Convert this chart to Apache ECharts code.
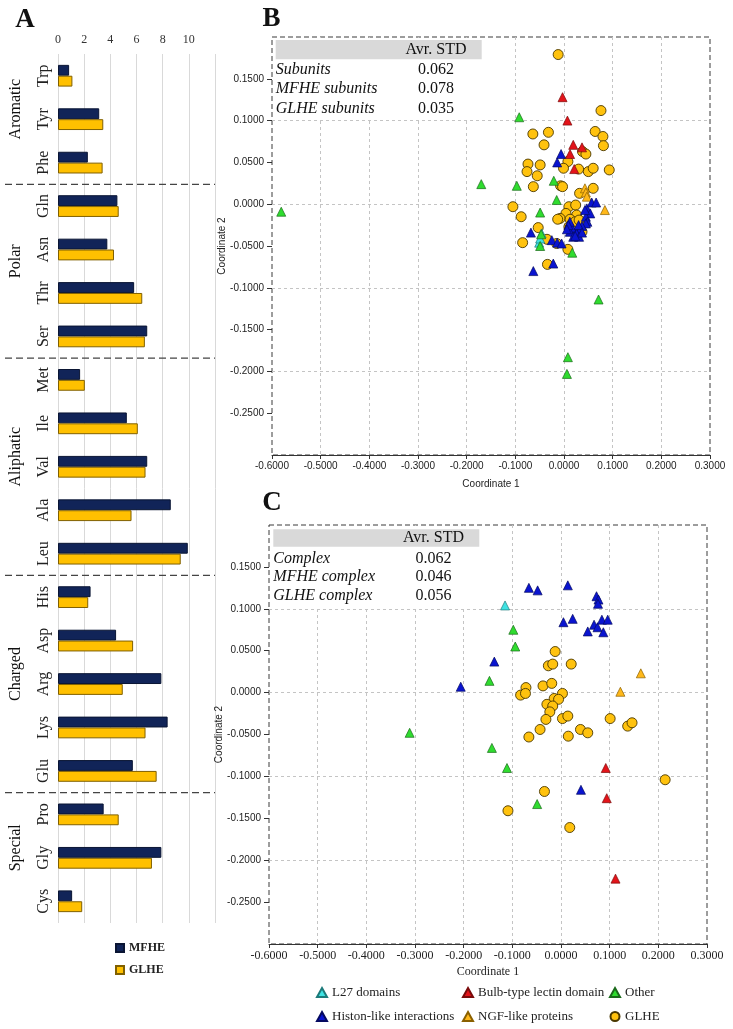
<!DOCTYPE html>
<html><head><meta charset="utf-8">
<script src="https://cdn.jsdelivr.net/npm/echarts@6/dist/echarts.min.js"></script>
<style>html,body{margin:0;padding:0;background:#fff}#c{width:733px;height:1029px}</style>
</head><body><div id="c"></div>
<script>
// ---------- Panel A data ----------
const categories = ['Trp','Tyr','Phe','Gln','Asn','Thr','Ser','Met','Ile','Val','Ala','Leu','His','Asp','Arg','Lys','Glu','Pro','Gly','Cys'];
const mfhe = [0.85,3.15,2.28,4.54,3.77,5.82,6.82,1.69,5.26,6.82,8.62,9.92,2.49,4.44,7.90,8.38,5.72,3.49,7.90,1.08];
const glhe = [1.10,3.46,3.41,4.64,4.28,6.44,6.64,2.05,6.10,6.69,5.62,9.38,2.31,5.74,4.95,6.69,7.54,4.64,7.18,1.85];
const groupNames = ['Aromatic','Polar','Aliphatic','Charged','Special'];
const groupFirst = ['Trp','Gln','Met','His','Pro'];
const groupLast  = ['Phe','Ser','Leu','Glu','Cys'];
const aTicks = [0,2,4,6,8,10];

// ---------- Panel B data (Coordinate 1, Coordinate 2) ----------
const bL27 = [[-0.046,-0.035],[-0.051,-0.046],[-0.049,-0.041]];
const bBulb = [[-0.003,0.128],[0.007,0.100],[0.019,0.071],[0.037,0.068],[0.0125,0.060],[0.021,0.042]];
const bOther = [[-0.581,-0.009],[-0.170,0.024],[-0.092,0.104],[-0.097,0.022],[-0.021,0.028],[-0.015,0.005],[-0.049,-0.010],[-0.047,-0.036],[-0.049,-0.050],[0.017,-0.058],[0.071,-0.114],[0.008,-0.183],[0.006,-0.203]];
const bHiston = [[-0.006,0.060],[-0.014,0.050],[-0.068,-0.034],[-0.063,-0.080],[-0.022,-0.071],[-0.025,-0.043],[-0.014,-0.046],[-0.005,-0.047],[0.047,-0.005],[0.057,0.002],[0.066,0.002],[0.054,-0.011],[0.045,-0.015],[0.048,-0.021],[0.045,-0.023],[0.037,-0.026],[0.033,-0.030],[0.023,-0.033],[0.016,-0.028],[0.026,-0.035],[0.031,-0.039],[0.012,-0.033],[0.019,-0.039],[0.012,-0.021],[0.009,-0.025],[0.030,-0.025],[0.006,-0.030],[0.037,-0.034],[0.023,-0.038],[0.043,-0.007]];
const bNGF = [[0.043,0.019],[0.045,0.014],[0.047,0.009],[0.084,-0.007]];
const bGLHE = [[-0.012,0.179],[0.076,0.112],[-0.064,0.084],[-0.032,0.086],[-0.041,0.071],[0.064,0.087],[0.080,0.081],[0.081,0.070],[0.038,0.063],[0.045,0.060],[0.008,0.051],[-0.001,0.043],[-0.074,0.048],[-0.049,0.047],[-0.076,0.039],[-0.055,0.034],[0.030,0.042],[0.050,0.039],[0.060,0.043],[0.093,0.041],[-0.063,0.021],[-0.007,0.022],[-0.003,0.021],[0.060,0.019],[0.032,0.013],[-0.105,-0.003],[-0.088,-0.015],[0.010,-0.003],[0.024,-0.001],[0.004,-0.011],[-0.008,-0.017],[-0.013,-0.018],[0.026,-0.013],[0.0125,-0.018],[0.023,-0.021],[0.031,-0.019],[0.010,-0.027],[0.037,-0.033],[-0.053,-0.028],[-0.085,-0.046],[-0.035,-0.042],[-0.015,-0.047],[0.008,-0.054],[-0.034,-0.072]];
const bTableRows = ['Subunits','MFHE subunits','GLHE subunits'];
const bTableVals = ['0.062','0.078','0.035'];

// ---------- Panel C data ----------
const cL27 = [[-0.115,0.104]];
const cBulb = [[0.092,-0.090],[0.094,-0.126],[0.112,-0.222]];
const cOther = [[-0.098,0.075],[-0.094,0.055],[-0.147,0.014],[-0.311,-0.048],[-0.142,-0.066],[-0.111,-0.090],[-0.049,-0.133]];
const cHiston = [[-0.066,0.125],[-0.048,0.122],[0.014,0.128],[0.073,0.115],[0.077,0.111],[0.076,0.106],[0.005,0.084],[0.024,0.088],[0.068,0.081],[0.075,0.078],[0.084,0.087],[0.096,0.087],[0.055,0.073],[0.087,0.072],[-0.137,0.037],[-0.206,0.007],[0.041,-0.116]];
const cNGF = [[0.164,0.023],[0.122,0.001]];
const cGLHE = [[-0.012,0.049],[-0.026,0.032],[-0.017,0.034],[0.021,0.034],[-0.072,0.006],[-0.083,-0.003],[-0.073,-0.001],[-0.037,0.008],[-0.019,0.011],[0.003,-0.001],[-0.014,-0.007],[-0.005,-0.008],[-0.029,-0.014],[-0.017,-0.016],[-0.023,-0.023],[-0.031,-0.032],[0.003,-0.031],[0.014,-0.028],[-0.043,-0.044],[-0.066,-0.053],[0.015,-0.052],[0.040,-0.044],[0.055,-0.048],[0.101,-0.031],[0.137,-0.040],[0.146,-0.036],[0.214,-0.104],[-0.034,-0.118],[-0.109,-0.141],[0.018,-0.161]];
const cTableRows = ['Complex','MFHE complex','GLHE complex'];
const cTableVals = ['0.062','0.046','0.056'];

const SERIF = '"Liberation Serif","Times New Roman",serif';
const SANS = '"Liberation Sans",Arial,sans-serif';

const groupDefs = [
  {name:'L27 domains', color:'#3fe3e3', border:'#1c7a7a', symbol:'triangle'},
  {name:'Bulb-type lectin domain', color:'#e3141a', border:'#7a0a0a', symbol:'triangle'},
  {name:'Other', color:'#2fdc2f', border:'#1a6a1a', symbol:'triangle'},
  {name:'Histon-like interactions', color:'#0a14d0', border:'#050a60', symbol:'triangle'},
  {name:'NGF-like proteins', color:'#ffb81a', border:'#8a6000', symbol:'triangle'},
  {name:'GLHE', color:'#ffc20e', border:'#4a3800', symbol:'circle'}
];
const bSets = [bL27,bBulb,bOther,bHiston,bNGF,bGLHE];
const cSets = [cL27,cBulb,cOther,cHiston,cNGF,cGLHE];

function fmt4(v){ if(Math.abs(v)<1e-9) v=0; return v.toFixed(4); }

function scatterSeries(sets, xi, yi){
  const order = [5,0,1,2,4,3];
  return order.map(k => ({
    type:'scatter', name: groupDefs[k].name, xAxisIndex: xi, yAxisIndex: yi,
    symbol: groupDefs[k].symbol, symbolSize: groupDefs[k].symbol==='circle' ? 10 : 9,
    itemStyle:{color: groupDefs[k].color, borderColor: groupDefs[k].border, borderWidth: groupDefs[k].symbol==='circle'?0.9:0.7, opacity:1},
    data: sets[k], silent:true, animation:false
  }));
}

function valX(gi, fam, gap){
  return {gridIndex:gi, type:'value', min:-0.6, max:0.3, interval:0.1,
    axisLine:{show:true, onZero:false, lineStyle:{color:'#333', width:1}},
    axisTick:{show:true, length:4, lineStyle:{color:'#333'}},
    axisLabel:{fontFamily:fam, fontSize: fam===SERIF?12:10, color:'#222', margin:6, formatter: fmt4},
    splitLine:{show:true, showMinLine:false, showMaxLine:false, lineStyle:{color:'#c4c4c4', type:[3,3], width:1}},
    name:'Coordinate 1', nameLocation:'middle', nameGap:gap, nameMoveOverlap:false,
    nameTextStyle:{fontFamily:fam, fontSize: fam===SERIF?12:10, color:'#222'}};
}
function valY(gi){
  return [{gridIndex:gi, type:'value', min:-0.3, max:0.2, interval:0.05,
    axisLine:{show:false, onZero:false},
    axisTick:{show:true, length:5, lineStyle:{color:'#333'}},
    axisLabel:{fontFamily:SANS, fontSize:10, color:'#222', margin:8, showMinLabel:false, showMaxLabel:false, formatter: fmt4},
    splitLine:{show:false},
    name:'Coordinate 2', nameLocation:'middle', nameGap:45, nameMoveOverlap:false,
    nameTextStyle:{fontFamily:SANS, fontSize:10, color:'#222'}},
   {gridIndex:gi, type:'value', min:-0.3, max:0.2, interval:0.1, position:'left',
    axisLine:{show:false, onZero:false}, axisTick:{show:false}, axisLabel:{show:false},
    splitLine:{show:true, showMinLine:false, showMaxLine:false, lineStyle:{color:'#c4c4c4', type:[3,3], width:1}}}];
}

const chart = echarts.init(document.getElementById('c'), null, {renderer:'canvas'});
const legendText = {fontFamily:SERIF, fontSize:13, color:'#222'};
const option = {
  animation:false,
  backgroundColor:'#fff',
  grid:[
    {left:58, top:54, width:157, height:869},
    {left:272, top:37, width:438, height:418, show:true, backgroundColor:'transparent', borderColor:'#3a3a3a', borderWidth:1, borderType:[5,3]},
    {left:269, top:525, width:438, height:419, show:true, backgroundColor:'transparent', borderColor:'#3a3a3a', borderWidth:1, borderType:[5,3]}
  ],
  xAxis:[
    {gridIndex:0, type:'value', position:'top', min:0, max:12, interval:2,
     axisLine:{show:false}, axisTick:{show:false},
     axisLabel:{fontFamily:SERIF, fontSize:12, color:'#333', margin:8, formatter: v => aTicks.indexOf(v)>=0 ? String(v) : ''},
     splitLine:{show:true, showMinLine:true, showMaxLine:true, lineStyle:{color:'#d9d9d9', width:1}}},
    valX(1, SANS, 24),
    valX(2, SERIF, 22)
  ],
  yAxis:[
    {gridIndex:0, type:'category', data:categories, inverse:true,
     axisLine:{show:false}, axisTick:{show:false},
     axisLabel:{rotate:90, fontFamily:SERIF, fontSize:16, color:'#222', margin:6}},
    ...valY(1), ...valY(2)
  ],
  legend:[
    {data:[{name:'MFHE', icon:'rect'},{name:'GLHE ', icon:'rect'}], orient:'vertical', left:115, top:942, padding:0,
     itemWidth:8, itemHeight:8, itemGap:10, selectedMode:false,
     textStyle:{fontFamily:SERIF, fontWeight:'bold', fontSize:12, color:'#222'}},
    {data:[{name:'L27 domains', icon:'triangle'},{name:'Histon-like interactions', icon:'triangle'}], orient:'vertical', left:316, top:986, padding:0,
     itemWidth:10, itemHeight:9, itemGap:11, selectedMode:false, textStyle:legendText},
    {data:[{name:'Bulb-type lectin domain', icon:'triangle'},{name:'NGF-like proteins', icon:'triangle'}], orient:'vertical', left:462, top:986, padding:0,
     itemWidth:10, itemHeight:9, itemGap:11, selectedMode:false, textStyle:legendText},
    {data:[{name:'Other', icon:'triangle'},{name:'GLHE', icon:'circle'}], orient:'vertical', left:609, top:986, padding:0,
     itemWidth:10, itemHeight:9, itemGap:11, selectedMode:false, textStyle:legendText}
  ],
  series:[
    {type:'bar', name:'MFHE', xAxisIndex:0, yAxisIndex:0, data:mfhe, barGap:'0%', barCategoryGap:'50%',
     itemStyle:{color:'#112458', borderColor:'#0a1533', borderWidth:1}},
    {type:'bar', name:'GLHE ', xAxisIndex:0, yAxisIndex:0, data:glhe, barGap:'0%', barCategoryGap:'50%',
     itemStyle:{color:'#ffc000', borderColor:'#806000', borderWidth:1}},
    ...scatterSeries(bSets, 1, 1),
    ...scatterSeries(cSets, 2, 3)
  ]
};
chart.setOption(option);

// ---------- annotations ----------
const g = [];
function txt(x, y, text, font, align, rot){
  g.push({type:'text', x:x, y:y, rotation: rot||0, z:100,
    style:{text:text, font:font, fill:'#111', align:align||'left', verticalAlign:'middle', textAlign:align||'left', textVerticalAlign:'middle'}});
}
const yPix = c => chart.convertToPixel({yAxisIndex:0}, c);
// separators
for (let i=0;i<groupLast.length-1;i++){
  const idx = categories.indexOf(groupLast[i]);
  const y = (yPix(categories[idx]) + yPix(categories[idx+1]))/2;
  g.push({type:'line', z:50, shape:{x1:5, y1:y, x2:215, y2:y}, style:{stroke:'#444', lineWidth:1.2, lineDash:[7,4]}});
}
// group labels
groupNames.forEach((n,i)=>{
  const yc = (yPix(groupFirst[i]) + yPix(groupLast[i]))/2 - 10;
  txt(16, yc, n, '16px '+SERIF, 'center', Math.PI/2);
});
// panel letters
txt(25, 20, 'A', 'bold 27px '+SERIF, 'center');
txt(271.5, 19, 'B', 'bold 27px '+SERIF, 'center');
txt(272, 503, 'C', 'bold 27px '+SERIF, 'center');
// tables
function table(box, head, rows, vals){
  g.push({type:'rect', z:60, shape:{x:box.wx, y:box.wy, width:box.ww, height:box.wh}, style:{fill:'#fff'}});
  g.push({type:'rect', z:61, shape:{x:box.hx, y:box.hy, width:box.hw, height:box.hh}, style:{fill:'#d9d9d9'}});
  txt(box.vx, box.hy + box.hh/2, head, '16px '+SERIF, 'center');
  rows.forEach((r,i)=>{
    txt(box.hx, box.r0 + i*box.dr, r, 'italic 16px '+SERIF, 'left');
    txt(box.vx, box.r0 + i*box.dr, vals[i], '16px '+SERIF, 'center');
  });
}
table({wx:273, wy:38, ww:209, wh:81, hx:275.7, hy:40, hw:206, hh:19.3, vx:436, r0:70, dr:19.2}, 'Avr. STD', bTableRows, bTableVals);
table({wx:270, wy:526, ww:211, wh:81, hx:273.3, hy:529.3, hw:206, hh:17.4, vx:433.5, r0:558.3, dr:18.9}, 'Avr. STD', cTableRows, cTableVals);

chart.setOption({graphic:{elements:g}});
</script></body></html>
